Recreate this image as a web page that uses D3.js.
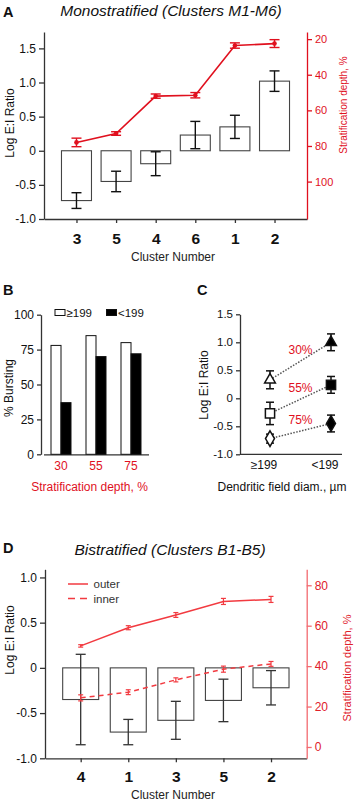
<!DOCTYPE html>
<html>
<head>
<meta charset="utf-8">
<script src="https://cdn.jsdelivr.net/npm/d3@7"></script>
<style>
    body { margin: 0; background: #fff; }
    svg { font-family: Arial, "Liberation Sans", sans-serif; }
    .axis path, .axis line { stroke: #333; stroke-width: 1.3; }
    .axis text { fill: #111; }
    .red-axis path, .red-axis line { stroke: #e0101e; }
    .red-axis text { fill: #e0101e; }
    .pink-axis path, .pink-axis line { stroke: #f26a70; }
    .pink-axis text { fill: #e0202a; }
    .red-labels text { fill: #e0101e; }
</style>
</head>
<body>
<div id="chart"></div>
<script>
// ---- panel A: monostratified clusters
const clustersA = ["3", "5", "4", "6", "1", "2"];
const ratioA = [-0.73, -0.45, -0.19, 0.23, 0.35, 1.02];
const ratioErrA = [0.115, 0.15, 0.175, 0.2, 0.17, 0.15];
const depthA = [78, 73, 52, 51.5, 23.6, 22.5];
const depthErrA = [2.4, 1, 1.2, 1.5, 1.5, 2.2];
const ratioTicksA = [-1, -0.5, 0, 0.5, 1, 1.5];
const depthTicksA = [20, 40, 60, 80, 100];

// ---- panel B: % bursting
const depthGroupsB = ["30", "55", "75"];
const sizeKeysB = ["≥199", "<199"];
const burstLargeB = [78, 85, 80];
const burstSmallB = [37, 70, 72];
const burstTicksB = [0, 25, 50, 75, 100];

// ---- panel C: E:I ratio by dendritic field
const fieldCatsC = ["≥199", "<199"];
const depthLabelsC = ["30%", "55%", "75%"];
const ratioLargeC = [0.33, -0.27, -0.72];
const ratioLargeErrC = [0.16, 0.2, 0.08];
const ratioSmallC = [1.0, 0.24, -0.45];
const ratioSmallErrC = [0.15, 0.15, 0.15];
const ratioTicksC = [-1, -0.5, 0, 0.5, 1, 1.5];

// ---- panel D: bistratified clusters
const clustersD = ["4", "1", "3", "5", "2"];
const ratioD = [-0.35, -0.71, -0.58, -0.36, -0.22];
const ratioErrD = [0.5, 0.14, 0.21, 0.235, 0.19];
const outerD = [50, 59, 65.3, 72, 73];
const outerErrD = [0.6, 1, 1.2, 1.5, 1.5];
const innerD = [24.3, 27.1, 33.2, 38.5, 41.1];
const innerErrD = [1.5, 1.2, 1, 1.5, 1.2];
const ratioTicksD = [-1, -0.5, 0, 0.5, 1];
const depthTicksD = [0, 20, 40, 60, 80];

const redA = "#e0101e";
const redD = "#f23a40";

const fmt = d => d === 0 ? "0" : d.toFixed(1);

const svg = d3.select("#chart").append("svg")
    .attr("width", 355)
    .attr("height", 804);

// vertical error bar with caps
function errBar(g, x, yTop, yBot, cap, color, width) {
    g.append("line").attr("x1", x).attr("x2", x).attr("y1", yTop).attr("y2", yBot)
        .attr("stroke", color).attr("stroke-width", width);
    [yTop, yBot].forEach(y => {
        g.append("line").attr("x1", x - cap / 2).attr("x2", x + cap / 2).attr("y1", y).attr("y2", y)
            .attr("stroke", color).attr("stroke-width", width);
    });
}

function panelLabel(x, y, t) {
    svg.append("text").attr("x", x).attr("y", y).text(t)
        .attr("font-size", 14.5).attr("font-weight", "bold").attr("fill", "#111");
}

function rotLabel(x, y, t, size, color) {
    svg.append("text").text(t)
        .attr("transform", `translate(${x},${y})rotate(-90)`)
        .attr("text-anchor", "middle")
        .attr("font-size", size)
        .attr("fill", color);
}

// ================= Panel A =================
panelLabel(3, 17, "A");
svg.append("text").attr("x", 171).attr("y", 16).attr("text-anchor", "middle")
    .attr("font-size", 15.5).attr("font-style", "italic").attr("fill", "#111")
    .text("Monostratified (Clusters M1-M6)");

const xA = d3.scalePoint().domain(clustersA).range([44, 307]).padding(0.82);
const yA = d3.scaleLinear().domain([-1, 1.74]).range([219, 32]);
const yAr = d3.scaleLinear().domain([16, 121]).range([32, 219]);

svg.append("g").attr("class", "axis").attr("transform", "translate(44,0)")
    .call(d3.axisLeft(yA).tickValues(ratioTicksA).tickFormat(fmt).tickSize(5).tickSizeOuter(0))
    .selectAll("text").attr("font-size", 12);

svg.append("g").attr("class", "axis").attr("transform", "translate(0,219)")
    .call(d3.axisBottom(xA).tickSize(4).tickSizeOuter(0).tickPadding(10))
    .selectAll("text").attr("font-size", 15.5).attr("font-weight", "bold");

svg.append("g").attr("class", "axis red-axis").attr("transform", "translate(307,0)")
    .call(d3.axisRight(yAr).tickValues(depthTicksA).tickSize(5).tickSizeOuter(0))
    .selectAll("text").attr("font-size", 11);

let gA = svg.append("g");
clustersA.forEach((c, i) => {
    let v = ratioA[i];
    gA.append("rect")
        .attr("x", xA(c) - 15).attr("width", 30)
        .attr("y", Math.min(yA(v), yA(0)))
        .attr("height", Math.abs(yA(v) - yA(0)))
        .attr("fill", "#fff").attr("stroke", "#444").attr("stroke-width", 1.1);
    errBar(gA, xA(c), yA(v + ratioErrA[i]), yA(v - ratioErrA[i]), 10, "#111", 1.4);
});

let lineA = d3.line().x((d, i) => xA(clustersA[i])).y(d => yAr(d));
gA.append("path").datum(depthA).attr("d", lineA)
    .attr("fill", "none").attr("stroke", redA).attr("stroke-width", 1.6);
depthA.forEach((d, i) => {
    errBar(gA, xA(clustersA[i]), yAr(d - depthErrA[i]), yAr(d + depthErrA[i]), 10, redA, 1.4);
    gA.append("circle").attr("cx", xA(clustersA[i])).attr("cy", yAr(d)).attr("r", 2.3).attr("fill", redA);
});

svg.append("text").attr("x", 173).attr("y", 261).attr("text-anchor", "middle")
    .attr("font-size", 12).attr("fill", "#222").text("Cluster Number");
rotLabel(14, 123, "Log E:I Ratio", 12, "#111");
rotLabel(347, 105, "Stratification depth, %", 10, redA);

// ================= Panel B =================
panelLabel(3, 295, "B");

const xB = d3.scaleBand().domain(depthGroupsB).range([43.5, 148.5]);
const xBsub = d3.scaleBand().domain(sizeKeysB).range([0, 20]);
const yB = d3.scaleLinear().domain([0, 100]).range([454.3, 314.7]);

svg.append("g").attr("class", "axis").attr("transform", "translate(41,0)")
    .call(d3.axisLeft(yB).tickValues(burstTicksB).tickSize(4).tickSizeOuter(0))
    .selectAll("text").attr("font-size", 12);

svg.append("g").attr("class", "axis red-labels").attr("transform", "translate(0,454.3)")
    .call(d3.axisBottom(xB).tickSize(0).tickSizeOuter(0).tickPadding(7))
    .selectAll("text").attr("font-size", 12);

let gB = svg.append("g");
depthGroupsB.forEach((grp, i) => {
    let x0 = xB(grp) + xB.bandwidth() / 2 - 10;
    [burstLargeB[i], burstSmallB[i]].forEach((v, k) => {
        gB.append("rect")
            .attr("x", x0 + xBsub(sizeKeysB[k])).attr("width", xBsub.bandwidth())
            .attr("y", yB(v)).attr("height", yB(0) - yB(v))
            .attr("fill", k === 0 ? "#fff" : "#000")
            .attr("stroke", "#111").attr("stroke-width", 1);
    });
});

// legend
sizeKeysB.forEach((k, i) => {
    let lx = 55 + i * 51.5;
    svg.append("rect").attr("x", lx).attr("y", 309.5).attr("width", 10).attr("height", 6)
        .attr("fill", i === 0 ? "#fff" : "#000").attr("stroke", "#111").attr("stroke-width", 1);
    svg.append("text").attr("x", lx + 11.5).attr("y", 316.5).attr("font-size", 11.5)
        .attr("fill", "#111").text(k);
});

rotLabel(13, 388, "% Bursting", 12, "#111");
svg.append("text").attr("x", 89.5).attr("y", 491).attr("text-anchor", "middle")
    .attr("font-size", 12).attr("fill", redA).text("Stratification depth, %");

// ================= Panel C =================
panelLabel(197, 295, "C");

const xC = d3.scalePoint().domain(fieldCatsC).range([270, 331]);
const yC = d3.scaleLinear().domain([-1, 1.5]).range([454.3, 314.3]);

svg.append("g").attr("class", "axis").attr("transform", "translate(240,0)")
    .call(d3.axisLeft(yC).tickValues(ratioTicksC).tickFormat(fmt).tickSize(4).tickSizeOuter(0))
    .selectAll("text").attr("font-size", 11.5);

svg.append("line").attr("x1", 240).attr("x2", 342).attr("y1", yC(-1)).attr("y2", yC(-1))
    .attr("stroke", "#333").attr("stroke-width", 1.3);
fieldCatsC.forEach(c => {
    svg.append("text").attr("x", xC(c) - 6).attr("y", 469).attr("text-anchor", "middle")
        .attr("font-size", 12).attr("fill", "#111").text(c);
});

const symbolsC = [d3.symbolTriangle, d3.symbolSquare, d3.symbolDiamond];
const symSizeC = [50, 85, 70];
let gC = svg.append("g");
depthLabelsC.forEach((lab, i) => {
    let xl = xC(fieldCatsC[0]), xs = xC(fieldCatsC[1]);
    let yl = yC(ratioLargeC[i]), ys = yC(ratioSmallC[i]);
    gC.append("line").attr("x1", xl).attr("y1", yl).attr("x2", xs).attr("y2", ys)
        .attr("stroke", "#555").attr("stroke-width", 1.5).attr("stroke-dasharray", "1.5,1.5");
    svg.append("text").attr("x", (xl + xs) / 2).attr("y", (yl + ys) / 2 - 7)
        .attr("text-anchor", "middle").attr("font-size", 12).attr("fill", redA).text(lab);
});
depthLabelsC.forEach((lab, i) => {
    [[ratioLargeC, ratioLargeErrC, "#fff"], [ratioSmallC, ratioSmallErrC, "#000"]].forEach(([vals, errs, fill], k) => {
        let x = xC(fieldCatsC[k]);
        errBar(gC, x, yC(vals[i] + errs[i]), yC(vals[i] - errs[i]), 8, "#111", 1.5);
        gC.append("path")
            .attr("d", d3.symbol().type(symbolsC[i]).size(symSizeC[i])())
            .attr("transform", `translate(${x},${yC(vals[i])})`)
            .attr("fill", fill).attr("stroke", "#111").attr("stroke-width", 1.5);
    });
});

rotLabel(208, 385, "Log E:I Ratio", 12, "#111");
svg.append("text").attr("x", 282).attr("y", 491).attr("text-anchor", "middle")
    .attr("font-size", 12).attr("fill", "#111").text("Dendritic field diam., µm");

// ================= Panel D =================
panelLabel(3, 553, "D");
svg.append("text").attr("x", 170).attr("y", 555).attr("text-anchor", "middle")
    .attr("font-size", 15.5).attr("font-style", "italic").attr("fill", "#111")
    .text("Bistratified (Clusters B1-B5)");

const xD = d3.scalePoint().domain(clustersD).range([45, 306.7]).padding(0.75);
const yD = d3.scaleLinear().domain([-1, 1.09]).range([758.3, 569.3]);
const yDr = d3.scaleLinear().domain([-5.6, 87.9]).range([758.3, 569.3]);

svg.append("g").attr("class", "axis").attr("transform", "translate(45,0)")
    .call(d3.axisLeft(yD).tickValues(ratioTicksD).tickFormat(fmt).tickSize(5).tickSizeOuter(0))
    .selectAll("text").attr("font-size", 12);

svg.append("g").attr("class", "axis").attr("transform", "translate(0,758.3)")
    .call(d3.axisBottom(xD).tickSize(4).tickSizeOuter(0).tickPadding(9))
    .selectAll("text").attr("font-size", 15.5).attr("font-weight", "bold");

svg.append("g").attr("class", "axis pink-axis").attr("transform", "translate(306.7,0)")
    .call(d3.axisRight(yDr).tickValues(depthTicksD).tickSize(5).tickSizeOuter(0))
    .selectAll("text").attr("font-size", 12);

let gD = svg.append("g");
clustersD.forEach((c, i) => {
    let v = ratioD[i];
    gD.append("rect")
        .attr("x", xD(c) - 18).attr("width", 36)
        .attr("y", Math.min(yD(v), yD(0)))
        .attr("height", Math.abs(yD(v) - yD(0)))
        .attr("fill", "#fff").attr("stroke", "#444").attr("stroke-width", 1.1);
    errBar(gD, xD(c), yD(v + ratioErrD[i]), yD(v - ratioErrD[i]), 10, "#333", 1.3);
});

let lineD = d3.line().x((d, i) => xD(clustersD[i])).y(d => yDr(d));
gD.append("path").datum(outerD).attr("d", lineD)
    .attr("fill", "none").attr("stroke", redD).attr("stroke-width", 1.5);
gD.append("path").datum(innerD).attr("d", lineD)
    .attr("fill", "none").attr("stroke", redD).attr("stroke-width", 1.5).attr("stroke-dasharray", "5,4");
[[outerD, outerErrD], [innerD, innerErrD]].forEach(([vals, errs]) => {
    vals.forEach((d, i) => {
        errBar(gD, xD(clustersD[i]), yDr(d + errs[i]), yDr(d - errs[i]), 5, redD, 1.2);
    });
});

// legend
svg.append("line").attr("x1", 68).attr("x2", 88).attr("y1", 584).attr("y2", 584)
    .attr("stroke", redD).attr("stroke-width", 1.5);
svg.append("line").attr("x1", 68).attr("x2", 88).attr("y1", 598.5).attr("y2", 598.5)
    .attr("stroke", redD).attr("stroke-width", 1.5).attr("stroke-dasharray", "7,5");
svg.append("text").attr("x", 93.5).attr("y", 588).attr("font-size", 11.5).attr("fill", "#333").text("outer");
svg.append("text").attr("x", 93.5).attr("y", 602.5).attr("font-size", 11.5).attr("fill", "#333").text("inner");

svg.append("text").attr("x", 173).attr("y", 799).attr("text-anchor", "middle")
    .attr("font-size", 12).attr("fill", "#222").text("Cluster Number");
rotLabel(14, 640, "Log E:I Ratio", 12, "#111");
rotLabel(351, 668, "Stratification depth, %", 11, "#e0202a");
</script>
</body>
</html>
